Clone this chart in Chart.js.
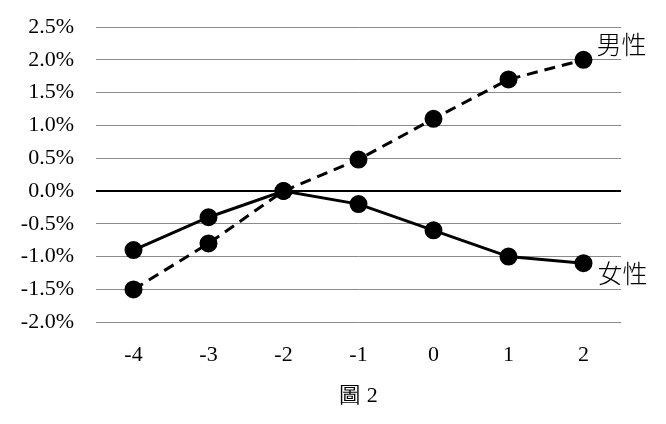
<!DOCTYPE html>
<html lang="zh-Hant">
<head>
    <meta charset="UTF-8">
    <title>圖 2</title>
    <style>
        html, body { margin: 0; padding: 0; background: #fff; }
        #wrap { width: 666px; height: 424px; }
    </style>
    <script src="https://cdn.jsdelivr.net/npm/chart.js"></script>
</head>
<body>
    <div id="wrap"><canvas id="chart"></canvas></div>

    <script>
        // data
        const periods = ['-4', '-3', '-2', '-1', '0', '1', '2'];
        const male = [-1.5, -0.8, 0.0, 0.48, 1.1, 1.7, 2.0];
        const female = [-0.9, -0.4, 0.0, -0.2, -0.6, -1.0, -1.1];
        const seriesNames = ['男性', '女性'];
        const figTitle = '圖 2';

        const serif = "'Liberation Serif', 'Times New Roman', serif";
        const cjk = "'Noto Sans CJK TC', 'Noto Sans CJK SC', sans-serif";

        // writes the series name next to the last point
        const endLabels = {
            id: 'endLabels',
            afterDatasetsDraw(chart) {
                const ctx = chart.ctx;
                ctx.save();
                ctx.font = '300 25px ' + cjk;
                ctx.fillStyle = '#000';
                ctx.textBaseline = 'middle';
                const offs = [[13, -15], [14, 10]];
                chart.data.datasets.forEach((ds, i) => {
                    const pts = chart.getDatasetMeta(i).data;
                    const p = pts[pts.length - 1];
                    ctx.fillText(ds.label, p.x + offs[i][0], p.y + offs[i][1]);
                });
                ctx.restore();
            }
        };

        new Chart(document.getElementById('chart'), {
            type: 'line',
            data: {
                labels: periods,
                datasets: [{
                    label: seriesNames[0],
                    data: male,
                    borderColor: '#000',
                    backgroundColor: '#000',
                    borderWidth: 3,
                    borderDash: [11, 7],
                    pointRadius: 7.5,
                    pointHoverRadius: 7.5,
                    tension: 0
                }, {
                    label: seriesNames[1],
                    data: female,
                    borderColor: '#000',
                    backgroundColor: '#000',
                    borderWidth: 3,
                    pointRadius: 7.5,
                    pointHoverRadius: 7.5,
                    tension: 0
                }]
            },
            options: {
                responsive: true,
                maintainAspectRatio: false,
                animation: false,
                layout: { padding: { top: 0, right: 45, left: 0, bottom: 15 } },
                plugins: {
                    legend: { display: false },
                    tooltip: { enabled: false }
                },
                scales: {
                    x: {
                        offset: true,
                        grid: { display: false, drawTicks: false },
                        border: { display: false },
                        ticks: { color: '#000', font: { family: serif, size: 22 }, padding: 20, autoSkip: false, maxRotation: 0 },
                        title: {
                            display: true,
                            text: figTitle,
                            color: '#000',
                            font: { family: serif, size: 22 },
                            padding: { top: -6, bottom: 0 }
                        }
                    },
                    y: {
                        min: -2.0,
                        max: 2.5,
                        afterFit(scale) {
                            scale.width = 96;
                            // the tick padding is only meant horizontally
                            scale.paddingTop = 27;
                            scale.paddingBottom = 13;
                        },
                        grid: {
                            drawTicks: false,
                            color: (c) => c.tick && c.tick.value === 0 ? '#000' : '#8a8a8a',
                            lineWidth: (c) => c.tick && c.tick.value === 0 ? 2 : 1
                        },
                        border: { display: false },
                        ticks: {
                            stepSize: 0.5,
                            autoSkip: false,
                            color: '#000',
                            padding: 22,
                            font: { family: serif, size: 22 },
                            callback: (v) => v.toFixed(1) + '%'
                        }
                    }
                }
            },
            plugins: [endLabels]
        });
    </script>
</body>
</html>
